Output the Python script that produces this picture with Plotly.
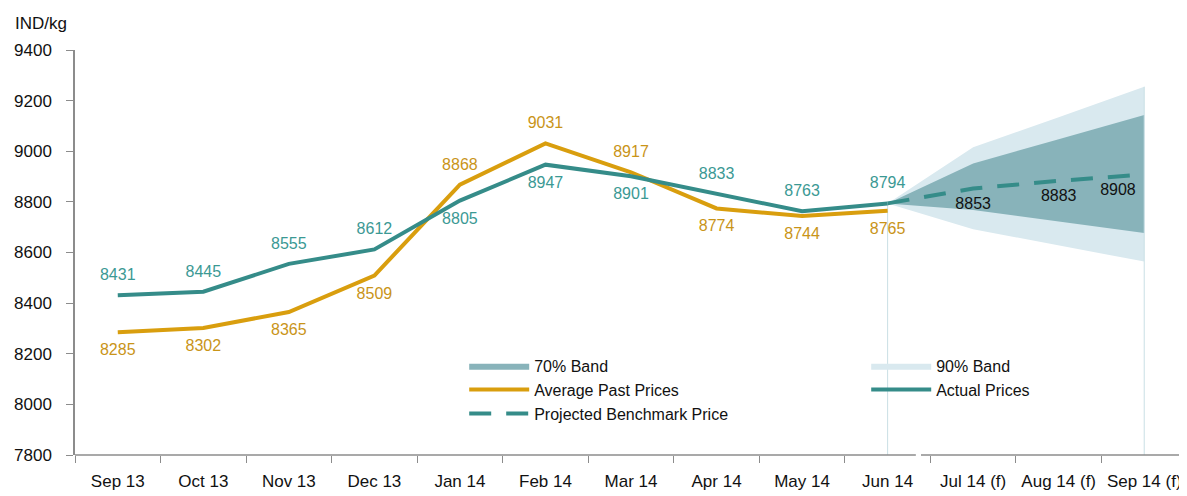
import plotly.graph_objects as go

categories = ["Sep 13", "Oct 13", "Nov 13", "Dec 13", "Jan 14", "Feb 14", "Mar 14",
              "Apr 14", "May 14", "Jun 14", "Jul 14 (f)", "Aug 14 (f)", "Sep 14 (f)"]
past_months = categories[:10]
actual_prices = [8431, 8445, 8555, 8612, 8805, 8947, 8901, 8833, 8763, 8794]
average_past = [8285, 8302, 8365, 8509, 8868, 9031, 8917, 8774, 8744, 8765]
actual_pos = ["top center"] * 4 + ["bottom center"] * 3 + ["top center"] * 3
average_pos = ["bottom center"] * 4 + ["top center"] * 3 + ["bottom center"] * 3

forecast_months = categories[9:]
forecast_values = [8794, 8853, 8883, 8908]
forecast_pos = ["bottom center", "bottom center", "bottom center", "bottom left"]
band70_upper = [8794, 8952, 9047, 9143]
band70_lower = [8794, 8768, 8722, 8677]
band90_upper = [8794, 9016, 9134, 9255]
band90_lower = [8794, 8692, 8628, 8564]

TEAL = "#358c89"
GOLD = "#d99e0e"
BAND70 = "#88b3ba"
BAND90 = "#d9e9ef"
FONT = "Liberation Sans, Arial, sans-serif"
CLEAR = "rgba(0,0,0,0)"

fig = go.Figure()

poly_x = forecast_months + forecast_months[::-1]
fig.add_trace(go.Scatter(x=poly_x, y=band90_upper + band90_lower[::-1], fill="toself",
                         fillcolor=BAND90, line=dict(width=0, color=BAND90),
                         mode="lines", name="90% Band", hoverinfo="skip"))
fig.add_trace(go.Scatter(x=poly_x, y=band70_upper + band70_lower[::-1], fill="toself",
                         fillcolor=BAND70, line=dict(width=0, color=BAND70),
                         mode="lines", name="70% Band", hoverinfo="skip"))

# thin vertical guides at start and end of forecast
fig.add_trace(go.Scatter(x=[forecast_months[0], forecast_months[0]], y=[7800, actual_prices[-1]],
                         mode="lines", line=dict(color="#c9dfe5", width=1), showlegend=False,
                         hoverinfo="skip"))
fig.add_trace(go.Scatter(x=[forecast_months[-1], forecast_months[-1]], y=[7800, band90_upper[-1]],
                         mode="lines", line=dict(color="#c9dfe5", width=1), showlegend=False,
                         hoverinfo="skip"))

hidden_marker = dict(size=16, color=CLEAR, line=dict(width=0))
fig.add_trace(go.Scatter(x=past_months, y=average_past, mode="lines+markers+text",
                         name="Average Past Prices", marker=hidden_marker,
                         line=dict(color=GOLD, width=4), text=[str(v) for v in average_past],
                         textposition=average_pos, textfont=dict(color="#c99418", size=16, family=FONT)))
fig.add_trace(go.Scatter(x=past_months, y=actual_prices, mode="lines+markers+text",
                         name="Actual Prices", marker=hidden_marker,
                         line=dict(color=TEAL, width=4), text=[str(v) for v in actual_prices],
                         textposition=actual_pos, textfont=dict(color="#3b9994", size=16, family=FONT)))
fig.add_trace(go.Scatter(x=forecast_months, y=forecast_values, mode="lines+markers+text",
                         name="Projected Benchmark Price",
                         marker=dict(size=12, color=CLEAR, line=dict(width=0)),
                         line=dict(color=TEAL, width=4, dash="22px,15px"),
                         text=[""] + [str(v) for v in forecast_values[1:]],
                         textposition=forecast_pos, textfont=dict(color="#111111", size=16, family=FONT)))

# legend order: 70%, 90%, Average, Actual, Projected
fig.data[0].legendrank = 2
fig.data[1].legendrank = 1
fig.data[4].legendrank = 3
fig.data[5].legendrank = 4
fig.data[6].legendrank = 5

# the page body has an 8px margin, so the figure is sized to end at the window edge
fig.update_layout(
    width=1179, height=488,
    margin=dict(l=67, r=0, t=42, b=41, autoexpand=False),
    plot_bgcolor="white", paper_bgcolor="white",
    font=dict(family=FONT, size=16, color="#111111"),
    showlegend=True,
    legend=dict(orientation="h", x=0.35, y=0.262, xanchor="left", yanchor="top",
                entrywidth=327, entrywidthmode="pixels", itemwidth=60,
                bgcolor="rgba(0,0,0,0)", font=dict(size=16, family=FONT), traceorder="normal"),
    xaxis=dict(type="category", categoryorder="array", categoryarray=categories,
               range=[-0.5, 12.5], showgrid=False, showline=False, zeroline=False,
               ticks="outside", ticklen=7, tickcolor="#8c8c8c", tickson="boundaries",
               tickangle=0, automargin=False,
               tickfont=dict(size=17, family=FONT, color="#111111"), ticklabelstandoff=14),
    yaxis=dict(range=[7800, 9400], dtick=200, showgrid=False, zeroline=False,
               showline=True, linecolor="#8c8c8c", linewidth=1.5, automargin=False,
               ticks="outside", ticklen=7, tickcolor="#8c8c8c",
               tickfont=dict(size=17, family=FONT, color="#111111"), ticklabelstandoff=11),
    annotations=[dict(text="IND/kg", xref="paper", yref="paper", x=0, y=1, xanchor="right",
                      yanchor="middle", xshift=-6, yshift=27, showarrow=False,
                      font=dict(size=17, family=FONT, color="#111111"))],
    shapes=[
        dict(type="line", xref="x", yref="paper", x0=-0.5, x1=9.33, y0=0, y1=0,
             line=dict(color="#8c8c8c", width=1.5)),
        dict(type="line", xref="x", yref="paper", x0=9.39, x1=12.5, y0=0, y1=0,
             line=dict(color="#8c8c8c", width=1.5)),
    ],
)

fig.write_html("out.html")
